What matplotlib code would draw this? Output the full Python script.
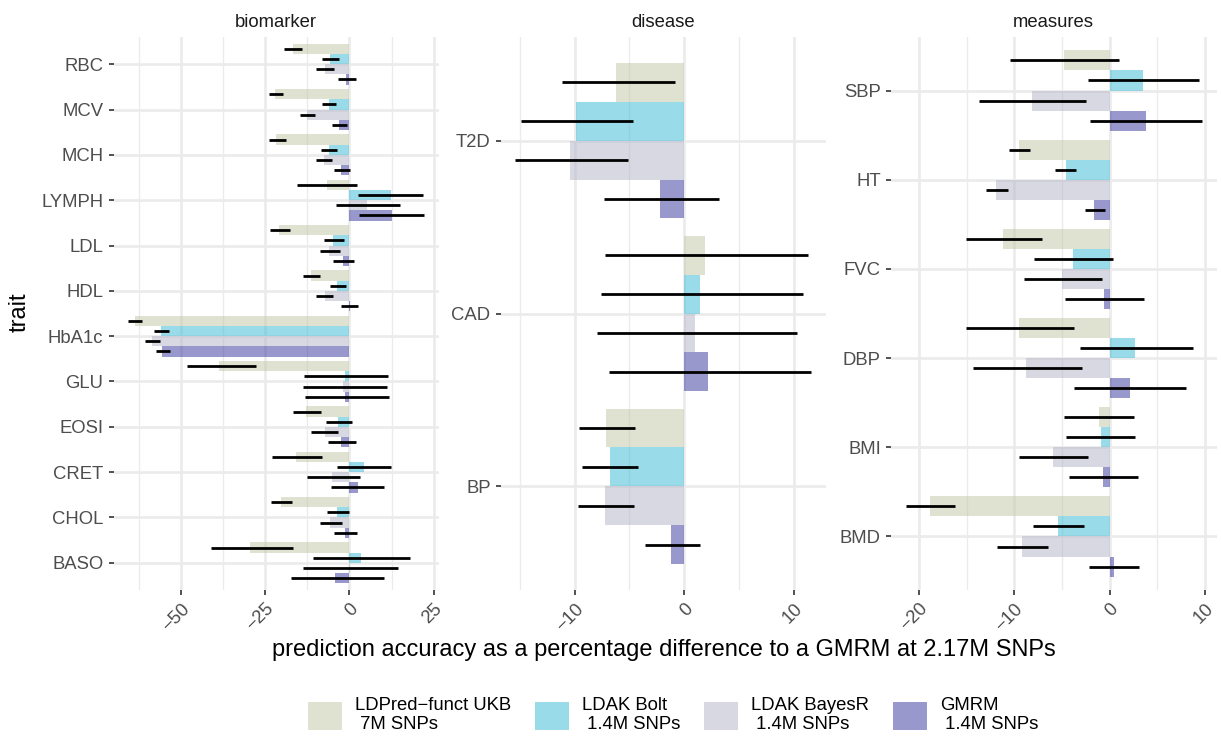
import matplotlib
matplotlib.use("Agg")
import matplotlib.pyplot as plt
from matplotlib.patches import Patch
import numpy as np

plt.rcParams['font.family'] = ['Liberation Sans', 'DejaVu Sans']

# ---- methods / legend ----
methods = ["LDPred\u2212funct UKB\n 7M SNPs", "LDAK Bolt\n 1.4M SNPs",
           "LDAK BayesR\n 1.4M SNPs", "GMRM\n 1.4M SNPs"]
colors = ["#C1C5A5", "#35B9D5", "#B3B3C9", "#35339D"]

# ---- biomarker ----
biomarker_traits = ["RBC", "MCV", "MCH", "LYMPH", "LDL", "HDL", "HbA1c",
                    "GLU", "EOSI", "CRET", "CHOL", "BASO"]
biomarker_ldpred = [-16.9, -22.0, -21.7, -6.8, -20.8, -11.3, -63.7, -38.7, -12.8, -15.8, -20.2, -29.5]
biomarker_ldpred_lo = [-19.4, -24.0, -23.9, -15.7, -23.6, -13.8, -65.7, -48.2, -16.7, -22.9, -23.4, -41.2]
biomarker_ldpred_hi = [-14.1, -19.6, -19.0, 2.3, -17.7, -8.8, -61.7, -27.9, -8.6, -8.1, -17.0, -16.7]
biomarker_bolt = [-5.65, -6.2, -6.2, 12.2, -4.8, -3.6, -56.0, -1.2, -3.3, 4.2, -3.6, 3.3]
biomarker_bolt_lo = [-8.3, -8.3, -8.5, 2.6, -7.7, -5.9, -58.0, -13.4, -7.1, -3.6, -6.8, -10.8]
biomarker_bolt_hi = [-3.0, -4.0, -3.7, 21.9, -1.6, -0.9, -53.7, 11.5, 0.8, 12.4, -0.1, 17.9]
biomarker_bayesr = [-7.4, -12.5, -7.7, 5.3, -6.0, -7.4, -58.6, -1.8, -7.4, -5.1, -5.65, 0.3]
biomarker_bayesr_lo = [-10.0, -14.7, -10.0, -3.9, -8.9, -9.9, -60.6, -13.8, -11.3, -12.5, -8.9, -13.9]
biomarker_bayesr_hi = [-4.7, -10.3, -5.1, 15.0, -2.7, -4.9, -56.3, 11.1, -3.3, 3.0, -2.1, 14.5]
biomarker_gmrm = [-0.9, -3.0, -2.4, 12.5, -1.8, 0.1, -55.7, -1.2, -2.4, 2.4, -1.2, -4.2]
biomarker_gmrm_lo = [-3.5, -5.2, -4.7, 2.8, -4.8, -2.6, -57.6, -13.3, -6.25, -5.5, -4.5, -17.5]
biomarker_gmrm_hi = [1.9, -0.8, 0.1, 22.2, 1.4, 2.5, -53.3, 11.7, 1.8, 10.4, 2.3, 10.4]

# ---- disease ----
disease_traits = ["T2D", "CAD", "BP"]
disease_ldpred = [-6.2, 1.9, -7.1]
disease_ldpred_lo = [-11.2, -7.2, -9.6]
disease_ldpred_hi = [-0.85, 11.3, -4.5]
disease_bolt = [-9.9, 1.45, -6.8]
disease_bolt_lo = [-14.9, -7.6, -9.3]
disease_bolt_hi = [-4.7, 10.8, -4.2]
disease_bayesr = [-10.4, 1.0, -7.2]
disease_bayesr_lo = [-15.4, -8.0, -9.7]
disease_bayesr_hi = [-5.15, 10.3, -4.6]
disease_gmrm = [-2.2, 2.2, -1.2]
disease_gmrm_lo = [-7.3, -6.9, -3.6]
disease_gmrm_hi = [3.2, 11.6, 1.45]

# ---- measures ----
measures_traits = ["SBP", "HT", "FVC", "DBP", "BMI", "BMD"]
measures_ldpred = [-4.8, -9.55, -11.2, -9.55, -1.15, -18.9]
measures_ldpred_lo = [-10.5, -10.6, -15.1, -15.1, -4.75, -21.4]
measures_ldpred_hi = [0.95, -8.4, -7.1, -3.75, 2.5, -16.2]
measures_bolt = [3.5, -4.6, -3.9, 2.7, -0.95, -5.45]
measures_bolt_lo = [-2.3, -5.7, -7.9, -3.1, -4.6, -8.05]
measures_bolt_hi = [9.4, -3.5, 0.3, 8.7, 2.7, -2.7]
measures_bayesr = [-8.2, -11.9, -5.0, -8.8, -6.0, -9.2]
measures_bayesr_lo = [-13.7, -13.0, -9.0, -14.3, -9.5, -11.8]
measures_bayesr_hi = [-2.45, -10.7, -0.8, -2.9, -2.3, -6.5]
measures_gmrm = [3.8, -1.6, -0.6, 2.1, -0.7, 0.4]
measures_gmrm_lo = [-2.1, -2.6, -4.65, -3.8, -4.3, -2.2]
measures_gmrm_hi = [9.65, -0.45, 3.6, 8.0, 3.0, 3.1]

panels = [
    ("biomarker", biomarker_traits,
     [biomarker_ldpred, biomarker_bolt, biomarker_bayesr, biomarker_gmrm],
     [biomarker_ldpred_lo, biomarker_bolt_lo, biomarker_bayesr_lo, biomarker_gmrm_lo],
     [biomarker_ldpred_hi, biomarker_bolt_hi, biomarker_bayesr_hi, biomarker_gmrm_hi],
     [-50, -25, 0, 25], 12.5),
    ("disease", disease_traits,
     [disease_ldpred, disease_bolt, disease_bayesr, disease_gmrm],
     [disease_ldpred_lo, disease_bolt_lo, disease_bayesr_lo, disease_gmrm_lo],
     [disease_ldpred_hi, disease_bolt_hi, disease_bayesr_hi, disease_gmrm_hi],
     [-10, 0, 10], 5),
    ("measures", measures_traits,
     [measures_ldpred, measures_bolt, measures_bayesr, measures_gmrm],
     [measures_ldpred_lo, measures_bolt_lo, measures_bayesr_lo, measures_gmrm_lo],
     [measures_ldpred_hi, measures_bolt_hi, measures_bayesr_hi, measures_gmrm_hi],
     [-20, -10, 0, 10], 5),
]

W, H = 1221, 737
fig = plt.figure(figsize=(W / 100, H / 100), dpi=100)

panel_left = [113.5, 500.7, 891.0]
panel_w = 325.5
panel_top, panel_bottom = 37.0, 590.0

grid_col = "#EBEBEB"
bar_h = 0.225
offsets = [1.5 * bar_h, 0.5 * bar_h, -0.5 * bar_h, -1.5 * bar_h]

for k, (name, traits, vals, los, his, majors, minor_step) in enumerate(panels):
    ax = fig.add_axes([panel_left[k] / W, 1 - panel_bottom / H,
                       panel_w / W, (panel_bottom - panel_top) / H])
    n = len(traits)
    y = np.arange(n, 0, -1, dtype=float)
    for m in range(4):
        ax.barh(y + offsets[m], vals[m], height=bar_h, color=colors[m],
                alpha=0.5, linewidth=0, zorder=2)
    for m in range(4):
        ax.hlines(y + offsets[m], los[m], his[m], color="black",
                  linewidth=2.0, zorder=3)
    # continuous axis with 5% expansion on each side
    lo_all = min(min(v) for v in los + vals)
    hi_all = max(max(v) for v in his + vals)
    span = hi_all - lo_all
    x0, x1 = lo_all - 0.05 * span, hi_all + 0.05 * span

    ax.set_yticks(y)
    ax.set_yticklabels(traits)
    ax.set_xticks(majors)
    ax.set_xticklabels([f"{t:d}".replace("-", "\u2212") for t in majors])
    mins = np.arange(majors[0] - 4 * minor_step, majors[-1] + 4 * minor_step, minor_step)
    mins = [t for t in mins if t not in majors and x0 <= t <= x1]
    ax.set_xticks(mins, minor=True)
    ax.set_xlim(x0, x1)
    ax.set_ylim(0.4, n + 0.6)

    ax.grid(axis="x", which="major", color=grid_col, linewidth=1.9, zorder=0)
    ax.grid(axis="x", which="minor", color=grid_col, linewidth=1.0, zorder=0)
    ax.grid(axis="y", which="major", color=grid_col, linewidth=1.9, zorder=0)
    ax.set_axisbelow(True)
    for s in ax.spines.values():
        s.set_visible(False)
    ax.tick_params(axis="both", which="major", length=3.8, width=1.2,
                   color="#333333", labelsize=13.3, labelcolor="#4D4D4D", pad=3.5)
    ax.tick_params(axis="x", which="minor", length=0)
    for lab in ax.get_xticklabels():
        lab.set_rotation(45)
        lab.set_ha("right")
        lab.set_va("top")
        lab.set_rotation_mode("anchor")
    cx = (panel_left[k] + panel_w / 2) / W
    fig.text(cx, 1 - 27.3 / H, name, ha="center", va="baseline",
             fontsize=13.3, color="#1A1A1A")

fig.text(664 / W, 1 - 650 / H,
         "prediction accuracy as a percentage difference to a GMRM at 2.17M SNPs",
         ha="center", va="center", fontsize=17.0, color="black")
fig.text(20 / W, 1 - 312.5 / H, "trait", rotation=90, ha="center", va="center",
         fontsize=17.0, color="black")

handles = [Patch(facecolor=c, alpha=0.5, linewidth=0) for c in colors]
leg = fig.legend(handles, methods, loc="center", bbox_to_anchor=(673 / W, 1 - 715 / H),
                 ncol=4, frameon=False, fontsize=13.3, handlelength=1.84,
                 handleheight=1.95, handletextpad=0.7, columnspacing=1.3,
                 borderaxespad=0, borderpad=0)
for t in leg.get_texts():
    t.set_linespacing(1.15)

fig.savefig("out.png", dpi=100)
